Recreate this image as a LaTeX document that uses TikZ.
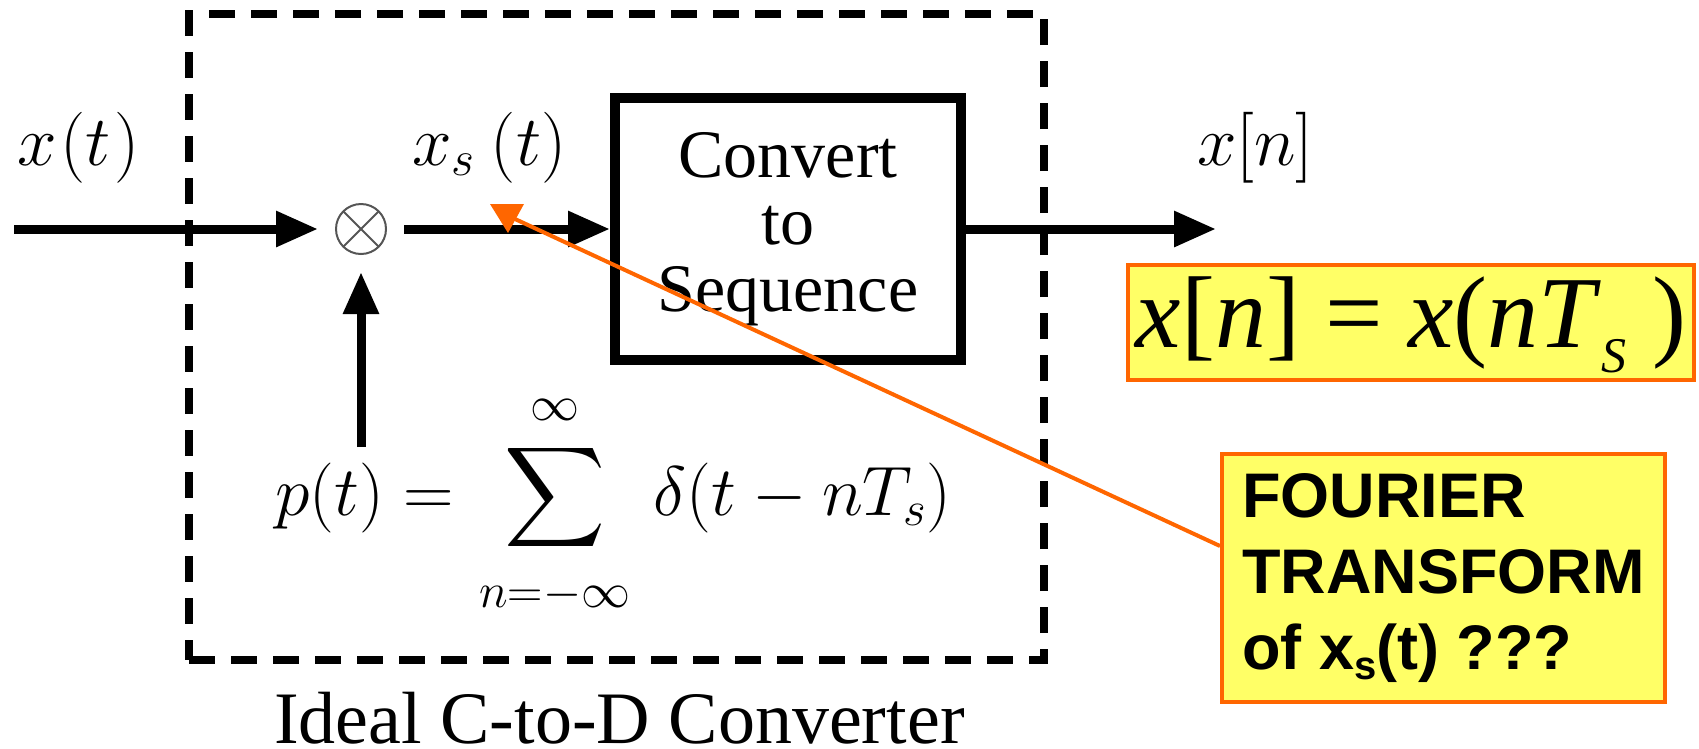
\RequirePackage{fix-cm}
\documentclass[tikz,border=0pt]{standalone}
\usepackage{graphicx}
\usepackage{fontspec}
\newfontfamily\tnr{Liberation Serif}
\newfontfamily\arl{Liberation Sans}
\usetikzlibrary{arrows.meta,calc}
\definecolor{ppor}{HTML}{FF6600}
\definecolor{ppye}{HTML}{FFFF66}
\definecolor{xgray}{HTML}{555555}
\newcommand{\bigsigma}{\mathop{\vcenter{\hbox{\scalebox{7}{\fontsize{10}{12}\selectfont$\displaystyle\sum$}}}}}
\newcommand{\zlim}[1]{\hbox to 0pt{\hss$\scriptstyle #1$\hss}}
\begin{document}
\begin{tikzpicture}[x=1pt,y=-1pt,line join=miter,
  sig/.style={line width=9pt,-{Triangle[length=42pt,width=34pt]}},
  mathlbl/.style={inner sep=0pt,anchor=base west,font=\fontsize{71}{80}\selectfont},
  callout/.style={draw=ppor,fill=ppye,line width=4pt,inner sep=0pt},
  ]
\useasboundingbox (0,0) rectangle (1699,748);
% dashed converter frame
\node[draw,line width=8pt,dash pattern=on 26pt off 16pt,minimum width=855pt,minimum height=646pt,inner sep=0pt] (frame) at (616.5,337) {};
% labels
\node[mathlbl] (xt) at (17,165) {$x\mkern1mu(t\mkern1mu)$};
\node[mathlbl] (xst) at (412,165) {$x_s\mkern4mu(t)$};
\node[mathlbl] (xnl) at (1197,165) {$x[n]$};
% multiplier
\node[circle,draw=xgray,line width=2pt,minimum size=50pt,inner sep=0pt,outer sep=18pt,
  path picture={
    \draw[xgray,line width=2pt] ([shift={(45:25pt)}]path picture bounding box.center) -- ([shift={(225:25pt)}]path picture bounding box.center);
    \draw[xgray,line width=2pt] ([shift={(135:25pt)}]path picture bounding box.center) -- ([shift={(315:25pt)}]path picture bounding box.center);
  }] (mult) at (361,229) {};
% converter box
\node[draw,line width=10pt,minimum width=346pt,minimum height=262pt,inner sep=0pt,
  font=\tnr\fontsize{68}{67}\selectfont,align=center] (conv) at (788,229) {Convert\\to\\Sequence};
% signal path
\coordinate (in) at (14,229);
\coordinate (out) at (1216,229);
\coordinate (pin) at (361,447);
\draw[sig] (in) -- (mult.west);
\draw[sig] (mult.east) -- (conv.west);
\draw[sig] (conv.east) -- (out);
\draw[sig] (pin) -- (mult.south);
% impulse train
\node[inner sep=0pt,anchor=base west,font=\fontsize{70}{80}\selectfont] (pt) at (275,515)
  {$\displaystyle p(t)=\hspace{31pt}\bigsigma\limits_{\zlim{n=-\infty\rule{0pt}{52pt}}}^{\zlim{\infty\rule[-20pt]{0pt}{0pt}}}\hspace{37pt}\delta(t-nT_s)$};
% caption
\node[inner sep=0pt,anchor=base west,font=\tnr\fontsize{74}{80}\selectfont] (ideal) at (274,743) {Ideal C-to-D Converter};
% sampling formula
\node[callout,minimum width=566pt,minimum height=115pt,text height=74pt,text depth=25pt,
  font=\tnr\fontsize{102}{110}\selectfont] (samp) at (1411,322.5)
  {\textit{x}[\textit{n}] = \textit{x}(\textit{nT}\raisebox{-25pt}{\fontsize{50}{50}\selectfont\itshape S} )};
% question callout
\node[callout,minimum width=443pt,minimum height=248pt,align=left,
  font=\arl\bfseries\fontsize{63}{76}\selectfont] (ft) at (1443.5,578)
  {FOURIER\\TRANSFORM\\of x\raisebox{-10pt}{\fontsize{40}{40}\selectfont s}(t) ???};
% pointer
\coordinate (tip) at (515,219);
\draw[ppor,line width=4pt] ([yshift=-94pt]ft.north west) -- (tip);
\fill[ppor] (490,204) -- (524,204) -- (508,233) -- cycle;
\end{tikzpicture}
\end{document}
